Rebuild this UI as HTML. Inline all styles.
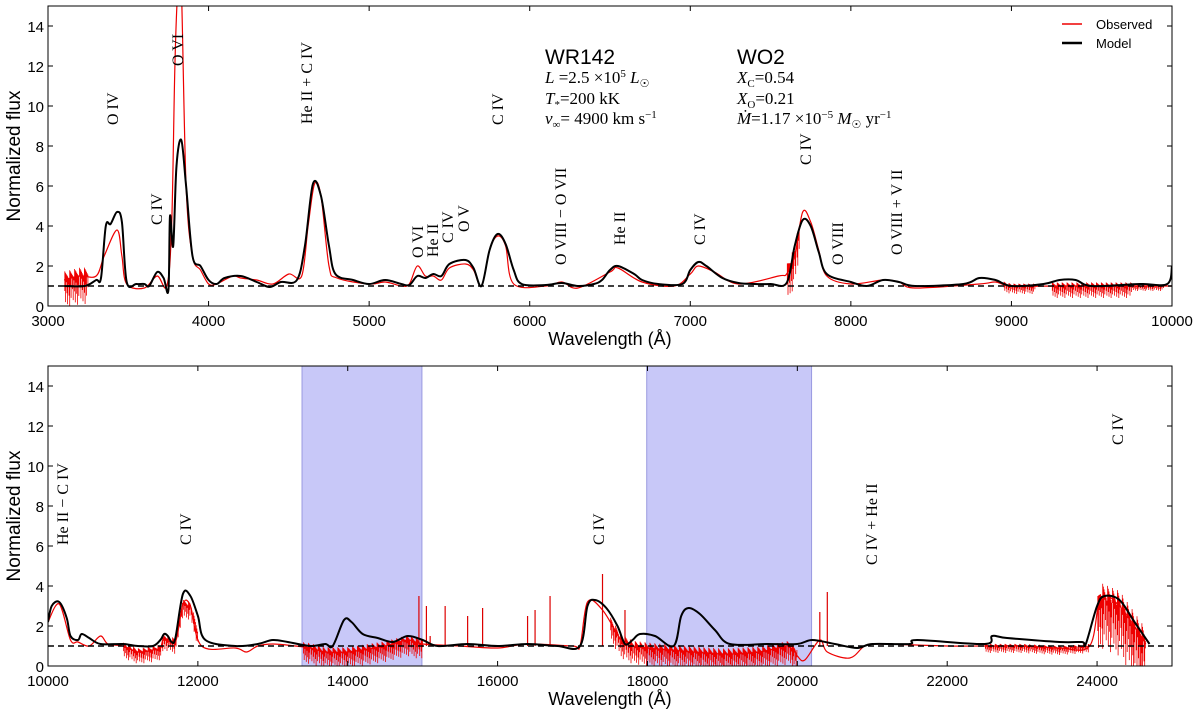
<!DOCTYPE html>
<html><head><meta charset="utf-8"><style>
body{margin:0;background:#fff;}
svg{display:block;font-family:"Liberation Sans",sans-serif;}
.lbl{font-family:"Liberation Serif",serif;font-size:16px;}
</style></head><body>
<svg id="c" width="1200" height="714"></svg>
<script>
// ---- data: top panel (optical) ----
const topModelW=[3100,3230,3300,3330,3360,3390,3430,3460,3490,3550,3600,3630,3680,3720,3750,3760,3780,3800,3830,3860,3900,3950,4000,4050,4100,4200,4300,4380,4450,4550,4600,4650,4700,4750,4790,4900,5000,5100,5200,5250,5300,5350,5400,5450,5500,5600,5650,5700,5750,5800,5850,5900,5950,6100,6200,6300,6400,6450,6500,6550,6650,6700,6800,6950,7000,7050,7100,7200,7300,7400,7500,7600,7650,7700,7750,7800,7850,8000,8100,8200,8300,8400,8700,8800,8900,9000,9200,9300,9400,9500,9800,9970,10000];
const topModelF=[1,1,1.3,1.4,4.0,4.1,4.7,4.2,1.2,1.1,1.1,1.0,1.7,1.4,0.8,4.5,3.0,7.0,8.3,6.0,2.5,2.0,1.3,1.1,1.4,1.5,1.2,0.95,1.2,1.3,3.0,6.1,5.5,3.0,1.6,1.3,1.1,1.3,1.1,1.05,1.5,1.4,1.6,1.5,2.1,2.3,1.9,1.0,2.8,3.6,3.1,1.8,1.1,1.05,1.15,1.0,1.1,1.3,1.8,2.0,1.6,1.3,1.1,1.1,1.8,2.2,2.0,1.4,1.15,1.1,1.1,1.15,3.0,4.3,4.0,2.7,1.6,1.2,1.0,1.3,1.2,1.0,1.1,1.4,1.3,1.0,1.1,1.3,1.3,1.0,1.1,1.1,2.0];
const topObsW=[3100,3200,3300,3350,3430,3460,3490,3600,3680,3740,3770,3790,3810,3830,3860,3900,3950,4000,4050,4150,4200,4300,4400,4500,4580,4620,4660,4700,4750,4800,5000,5100,5200,5250,5300,5350,5400,5450,5500,5600,5650,5700,5750,5800,5850,5900,6100,6200,6300,6500,6550,6700,6900,7000,7050,7150,7300,7550,7600,7650,7700,7750,7800,7850,8000,8200,8300,8400,8800,8900,9000,9300,9600,10000];
const topObsF=[1.3,1.5,1.5,2.5,3.8,2.5,1.1,0.9,1.5,1.0,4.0,12,16,16,6,2.5,1.8,1.1,1.1,1.5,1.4,1.3,1.1,1.6,1.5,4,6.1,5.5,2.0,1.4,1.1,1.2,1.0,1.1,2.0,1.5,1.5,1.3,1.9,2.1,1.8,1.0,2.8,3.5,3.0,1.1,1.0,1.2,0.9,1.7,1.9,1.2,1.0,1.6,2.0,1.7,1.1,1.5,1.6,2.5,4.7,4.2,2.8,1.5,1.1,1.3,1.2,0.9,1.1,1.2,1.0,1.0,1.0,1.0];
const topNoiseStart=[3100,7600,8950,9250,9750];
const topNoiseEnd=[3250,7680,9150,9750,9950];
const topNoiseAmp=[1.4,1.5,0.4,0.6,0.25];
// ---- data: bottom panel (near-IR) ----
const botModelW=[10000,10050,10150,10250,10300,10400,10450,10550,10700,11000,11200,11400,11500,11550,11600,11650,11700,11800,11900,12000,12100,12500,12800,13000,13200,13500,13700,13800,13950,14050,14200,14400,14600,14800,15000,15200,15600,16000,16400,16800,17100,17200,17300,17450,17600,17700,17800,17900,18100,18350,18450,18550,18700,18900,19100,19600,20000,20200,20500,20800,21000,21500,21600,22500,22600,22800,23500,23800,23850,24000,24100,24300,24500,24700];
const botModelF=[2.2,3.0,3.2,2.4,1.5,1.3,1.6,1.4,1.1,1.1,1.0,1.0,1.3,1.6,1.5,1.2,1.4,3.6,3.5,2.5,1.3,1.0,1.1,1.3,1.2,1.0,1.1,1.0,2.3,2.2,1.6,1.4,1.2,1.5,1.3,1.0,1.1,1.0,1.1,1.0,1.0,3.0,3.3,2.9,2.0,1.1,1.3,1.6,1.5,1.0,2.5,2.9,2.6,1.8,1.1,1.1,1.1,1.3,1.1,0.9,1.1,1.1,1.3,1.1,1.5,1.4,1.2,1.2,1.1,3.0,3.5,3.3,2.2,1.1];
const botObsW=[10000,10150,10300,10400,10550,10700,10800,11000,11200,11400,11500,11550,11700,11800,11900,12050,12500,12650,12800,13000,13300,13500,13700,14000,14500,14800,15000,15500,16000,16400,17000,17100,17200,17400,17650,17800,18000,18300,19000,19500,19900,20000,20100,20300,20400,20700,20900,21100,22000,22500,23000,23500,23900,24050,24300,24650];
const botObsF=[2.2,3.1,1.3,1.2,1.0,1.5,1.1,1.0,0.7,0.8,0.9,1.4,1.2,3.1,3.0,1.0,0.9,0.7,1.0,1.1,1.0,0.9,0.7,0.7,1.0,1.3,1.1,1.0,0.9,1.1,1.0,1.0,3.2,2.8,1.3,1.0,0.9,0.8,0.6,0.7,1.0,0.5,0.3,1.3,0.7,0.4,1.0,1.1,1.0,1.0,1.0,0.9,1.0,3.4,3.0,1.1];
const botNoiseStart=[11000,11800,13400,17500,22500,24000];
const botNoiseEnd=[11800,12000,15000,20000,23900,24650];
const botNoiseAmp=[0.6,0.7,0.8,0.9,0.35,2.5];
const spikeW=[14950,15050,15100,15300,15600,15800,16400,16500,16700,17400,17700,20300,20400];
const spikeF=[3.5,3.0,1.5,3.0,2.5,2.9,2.5,2.8,3.5,4.6,2.8,2.7,3.7];
const bandStart=[13390,17990];
const bandEnd=[14990,20190];
const topTicks=[3000,4000,5000,6000,7000,8000,9000,10000];
const botTicks=[10000,12000,14000,16000,18000,20000,22000,24000];
const yTicks=[0,2,4,6,8,10,12,14];

const NS="http://www.w3.org/2000/svg";
const svg=document.getElementById('c');
function mk(tag,attrs,parent){const e=document.createElementNS(NS,tag);for(const k in attrs)e.setAttribute(k,attrs[k]);(parent||svg).appendChild(e);return e;}
function interp(W,F,w){if(w<=W[0])return F[0];for(let i=1;i<W.length;i++){if(w<=W[i]){const t=(w-W[i-1])/(W[i]-W[i-1]);return F[i-1]+t*(F[i]-F[i-1]);}}return F[F.length-1];}
function smoothPath(pts){let d='M'+pts[0][0].toFixed(1)+','+pts[0][1].toFixed(1);
  for(let i=0;i<pts.length-1;i++){const p0=pts[i-1]||pts[i],p1=pts[i],p2=pts[i+1],p3=pts[i+2]||p2;
    const c1=[p1[0]+(p2[0]-p0[0])/6,p1[1]+(p2[1]-p0[1])/6],c2=[p2[0]-(p3[0]-p1[0])/6,p2[1]-(p3[1]-p1[1])/6];
    d+='C'+c1[0].toFixed(1)+','+c1[1].toFixed(1)+' '+c2[0].toFixed(1)+','+c2[1].toFixed(1)+' '+p2[0].toFixed(1)+','+p2[1].toFixed(1);}
  return d;}

function panel(cfg){
  const L=48,R=1172,T=cfg.top,B=cfg.top+300;
  const sx=w=>L+(w-cfg.x0)/(cfg.x1-cfg.x0)*(R-L);
  const sy=f=>B-f/15*(B-T);
  const g=mk('g',{});
  
  
  const clip=mk('clipPath',{id:'cl'+cfg.top},g);mk('rect',{x:L,y:T,width:R-L,height:B-T},clip);
  const pg=mk('g',{'clip-path':'url(#cl'+cfg.top+')'},g);
  (cfg.bandS||[]).forEach((s,i)=>{const r=mk('rect',{x:sx(s),y:T,width:sx(cfg.bandE[i])-sx(s),height:B-T,fill:'#c8c8f8',stroke:'#9a9ae0','stroke-width':1},pg);
    
    });
  // observed smooth
  const oW=cfg.oW,oF=cfg.oF;
  const ob=mk('path',{d:smoothPath(oW.map((w,i)=>[sx(w),sy(oF[i])])),fill:'none',stroke:'#ee0000','stroke-width':1.2},pg);
  
  
  // observed noise as dense vertical strokes
  let nd='';
  cfg.nS.forEach((s,i)=>{let k=0;for(let px=sx(s);px<=sx(cfg.nE[i]);px+=0.7){
    const w=cfg.x0+(px-L)/(R-L)*(cfg.x1-cfg.x0);const f=interp(oW,oF,w);const a=cfg.nA[i];
    const m=((k*37)%11)/10;const u=((k*13)%7)/6;k++;
    nd+='M'+px.toFixed(1)+','+sy(f+a*0.3*u).toFixed(1)+'L'+px.toFixed(1)+','+sy(Math.max(0,f-a*m)).toFixed(1);}});
  const np=mk('path',{d:nd,stroke:'#ee0000','stroke-width':0.8,fill:'none'},pg);
  
  
  (cfg.spW||[]).forEach((w,i)=>{const s=mk('line',{x1:sx(w),x2:sx(w),y1:sy(1),y2:sy(cfg.spF[i]),stroke:'#dd0000','stroke-width':1.2},pg);
    
    });
  const dl=mk('line',{x1:L,x2:R,y1:sy(1),y2:sy(1),stroke:'#000','stroke-width':1.5,'stroke-dasharray':'6,4'},pg);
  
  
  const mp=mk('path',{d:smoothPath(cfg.mW.map((w,i)=>[sx(w),sy(cfg.mF[i])])),fill:'none',stroke:'#000','stroke-width':2,'stroke-linejoin':'round'},pg);
  
  
  mk('rect',{x:L,y:T,width:R-L,height:B-T,fill:'none',stroke:'#000','stroke-width':1},g);
  cfg.xt.forEach(t=>{const x=sx(t);mk('line',{x1:x,x2:x,y1:B,y2:B-5,stroke:'#000'},g);mk('line',{x1:x,x2:x,y1:T,y2:T+5,stroke:'#000'},g);
    const tx=mk('text',{x:x,y:B+20,'text-anchor':'middle','font-size':15},g);tx.textContent=t;
    
    });
  yTicks.forEach(t=>{const y=sy(t);mk('line',{x1:L,x2:L+5,y1:y,y2:y,stroke:'#000'},g);mk('line',{x1:R,x2:R-5,y1:y,y2:y,stroke:'#000'},g);
    const tx=mk('text',{x:L-4,y:y+6,'text-anchor':'end','font-size':15},g);tx.textContent=t;
    
    });
  const yl=mk('text',{x:0,y:0,transform:`translate(20,${(T+B)/2}) rotate(-90)`,'text-anchor':'middle','font-size':19},g);yl.textContent='Normalized flux';
  
  
  const xl=mk('text',{x:610,y:B+39,'text-anchor':'middle','font-size':18},g);xl.textContent='Wavelength (Å)';
  
  
  cfg.labels.forEach(l=>{const t=mk('text',{class:'lbl',transform:`translate(${l[0]+5},${l[1]}) rotate(-90)`},g);t.textContent=l[2];
    
    });
}
panel({name:'optical-panel',top:6,x0:3000,x1:10000,mW:topModelW,mF:topModelF,oW:topObsW,oF:topObsF,nS:topNoiseStart,nE:topNoiseEnd,nA:topNoiseAmp,xt:topTicks,
 labels:[[113,125,'O IV'],[157,225,'C IV'],[178,66,'O VI'],[307,124,'He II  + C IV'],[498,125,'C IV'],[418,258,'O VI'],[433,257,'He II'],[448,243,'C IV'],[464,232,'O V'],[561,265,'O VIII  − O VII'],[620,245,'He II'],[700,245,'C IV'],[806,165,'C IV'],[838,265,'O VIII'],[897,255,'O VIII  + V II']]});
panel({name:'nir-panel',top:366,x0:10000,x1:25000,mW:botModelW,mF:botModelF,oW:botObsW,oF:botObsF,nS:botNoiseStart,nE:botNoiseEnd,nA:botNoiseAmp,xt:botTicks,spW:spikeW,spF:spikeF,bandS:bandStart,bandE:bandEnd,
 labels:[[63,545,'He II  − C IV'],[186,545,'C IV'],[599,545,'C IV'],[872,565,'C IV  + He II'],[1118,445,'C IV']]});
</script>
<svg style="position:absolute;left:0;top:0" width="1200" height="714">
 <text x="545" y="64" font-size="21" font-family="Liberation Sans,sans-serif">WR142</text>
 <text x="545" y="83" font-size="17" font-family="Liberation Serif,serif"><tspan font-style="italic">L</tspan>  =2.5 ×10<tspan dy="-6" font-size="11">5</tspan><tspan dy="6"> </tspan><tspan font-style="italic">L</tspan><tspan font-size="11" dy="4">☉</tspan></text>
 <text x="545" y="104" font-size="17" font-family="Liberation Serif,serif"><tspan font-style="italic">T</tspan><tspan font-size="11" dy="4">*</tspan><tspan dy="-4">=200 kK</tspan></text>
 <text x="545" y="124" font-size="17" font-family="Liberation Serif,serif"><tspan font-style="italic">v</tspan><tspan font-size="11" dy="4">∞</tspan><tspan dy="-4">= 4900 km s</tspan><tspan dy="-6" font-size="11">−1</tspan></text>
 <text x="737" y="64" font-size="21" font-family="Liberation Sans,sans-serif">WO2</text>
 <text x="737" y="83" font-size="17" font-family="Liberation Serif,serif"><tspan font-style="italic">X</tspan><tspan font-size="11" dy="4">C</tspan><tspan dy="-4">=0.54</tspan></text>
 <text x="737" y="104" font-size="17" font-family="Liberation Serif,serif"><tspan font-style="italic">X</tspan><tspan font-size="11" dy="4">O</tspan><tspan dy="-4">=0.21</tspan></text>
 <text x="737" y="124" font-size="17" font-family="Liberation Serif,serif"><tspan font-style="italic">Ṁ</tspan>=1.17 ×10<tspan dy="-6" font-size="11">−5</tspan><tspan dy="6"> </tspan><tspan font-style="italic">M</tspan><tspan font-size="11" dy="4">☉</tspan><tspan dy="-4"> yr</tspan><tspan dy="-6" font-size="11">−1</tspan></text>
 <g>
  <line x1="1062" x2="1082" y1="24" y2="24" stroke="#e00" stroke-width="1.5"/>
  <text x="1096" y="29" font-size="13" font-family="Liberation Sans,sans-serif">Observed</text>
  <line x1="1062" x2="1082" y1="43" y2="43" stroke="#000" stroke-width="2.5"/>
  <text x="1096" y="48" font-size="13" font-family="Liberation Sans,sans-serif">Model</text>
 </g>
</svg>
</body></html>
